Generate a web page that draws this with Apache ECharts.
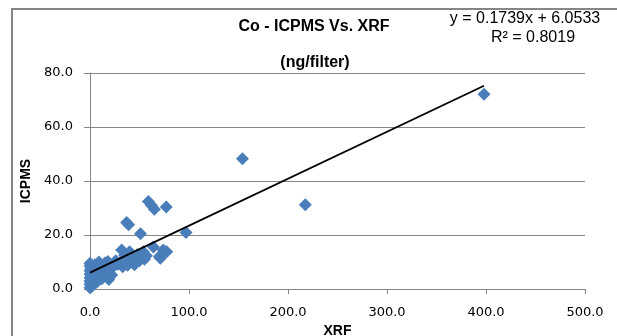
<!DOCTYPE html>
<html>
<head>
<meta charset="utf-8">
<script src="https://cdn.jsdelivr.net/npm/echarts@6/dist/echarts.min.js"></script>
<style>
  html, body { margin: 0; padding: 0; background: #fff; }
  #chart { width: 617px; height: 336px; }
</style>
</head>
<body>
<div id="chart"></div>
<script>
// Co measured on filters: XRF (x) against ICPMS (y), ng/filter
const xrf = [
  0, 0, 0, 0, 0, 0, 0, 0, 1, 1, 2, 2, 3, 3, 4, 5, 5, 6, 7, 8, 9, 10, 11, 12, 14, 15, 17, 18, 19, 20, 22, 24, 26, 28,
  30, 32, 33, 35, 36, 38, 40, 42, 44, 45, 48, 50, 53.8, 55, 57,
  37, 39, 51, 59, 62, 65, 77, 64, 70, 71, 74, 77.5, 97, 154, 217.5, 398
];
const icpms = [
  0.5, 1.8, 3, 4.2, 5.5, 6.8, 8.5, 9.5, 2.5, 7.5, 1, 5, 3.5, 8, 6, 2, 9, 4.5, 7, 3, 10, 5.5, 8, 3.8, 6.5, 9.6, 4.5, 10.2, 3.5, 7, 5.2, 8.5, 10.5, 9.2,
  9.5, 14.4, 8.2, 12.5, 10.5, 8.8, 13.8, 10, 12, 9, 12.8, 10.5, 13.8, 11, 12.3,
  24.6, 23.8, 20.5, 32.4, 31, 29.5, 30.4, 15.6, 12, 11.4, 14.4, 13.8, 20.9, 48.2, 31.2, 72.1
];

// Linear trendline as reported on the chart
const slope = 0.1739;
const intercept = 6.0533;
const rSquared = 0.8019;

const xTicks = [0, 100, 200, 300, 400, 500];
const yTicks = [0, 20, 40, 60, 80];

const points = xrf.map((x, i) => [x, icpms[i]]);
const xMin = Math.min(...xrf);
const xMax = Math.max(...xrf);
const trend = [[xMin, slope * xMin + intercept], [xMax, slope * xMax + intercept]];

const gray = '#868686';
const tickFont = 'DejaVu Sans';
const textFont = 'Liberation Sans';

const chart = echarts.init(document.getElementById('chart'), null, { renderer: 'canvas' });
chart.setOption({
  animation: false,
  backgroundColor: '#ffffff',
  grid: { left: 90, right: 32, top: 73, bottom: 47, containLabel: false, outerBoundsMode: 'none' },
  xAxis: {
    type: 'value',
    min: xTicks[0],
    max: xTicks[xTicks.length - 1],
    interval: xTicks[1] - xTicks[0],
    name: 'XRF',
    nameLocation: 'middle',
    nameGap: 30,
    nameTextStyle: { fontFamily: textFont, fontWeight: 'bold', fontSize: 14, color: '#000' },
    axisLine: { show: true, lineStyle: { color: gray, width: 1 } },
    axisTick: { show: true, inside: false, length: 5, lineStyle: { color: gray } },
    axisLabel: { margin: 17, fontFamily: tickFont, fontSize: 13, color: '#000', formatter: v => v.toFixed(1) },
    splitLine: { show: false }
  },
  yAxis: {
    type: 'value',
    min: yTicks[0],
    max: yTicks[yTicks.length - 1],
    interval: yTicks[1] - yTicks[0],
    name: 'ICPMS',
    nameLocation: 'middle',
    nameGap: 54,
    nameTextStyle: { fontFamily: textFont, fontWeight: 'bold', fontSize: 14, color: '#000' },
    axisLine: { show: true, lineStyle: { color: gray, width: 1 } },
    axisTick: { show: true, inside: false, length: 6, lineStyle: { color: gray } },
    axisLabel: { margin: 17, fontFamily: tickFont, fontSize: 13, color: '#000', formatter: v => v.toFixed(1) },
    splitLine: { show: true, lineStyle: { color: gray, width: 1 } }
  },
  series: [
    {
      type: 'scatter',
      data: points,
      symbol: 'diamond',
      symbolSize: 13,
      itemStyle: { color: '#4A7EBB', opacity: 1 },
      z: 2
    },
    {
      type: 'line',
      data: trend,
      symbol: 'none',
      lineStyle: { color: '#000', width: 1.8 },
      z: 3
    }
  ],
  graphic: [
    {
      type: 'rect',
      shape: { x: 12, y: 9, width: 1000, height: 1000 },
      style: { fill: 'none', stroke: gray, lineWidth: 2 },
      silent: true,
      z: -1
    },
    {
      type: 'text', x: 314, y: 27,
      style: { text: 'Co - ICPMS Vs. XRF', font: 'bold 16px "Liberation Sans"', fill: '#000', textAlign: 'center', textVerticalAlign: 'middle' }
    },
    {
      type: 'text', x: 315, y: 63,
      style: { text: '(ng/filter)', font: 'bold 16px "Liberation Sans"', fill: '#000', textAlign: 'center', textVerticalAlign: 'middle' }
    },
    {
      type: 'text', x: 525, y: 19,
      style: { text: 'y = ' + slope.toFixed(4) + 'x + ' + intercept.toFixed(4), font: '16px "Liberation Sans"', fill: '#000', textAlign: 'center', textVerticalAlign: 'middle' }
    },
    {
      type: 'text', x: 533, y: 38,
      style: { text: 'R\u00B2 = ' + rSquared.toFixed(4), font: '16px "Liberation Sans"', fill: '#000', textAlign: 'center', textVerticalAlign: 'middle' }
    }
  ]
});
</script>
</body>
</html>
